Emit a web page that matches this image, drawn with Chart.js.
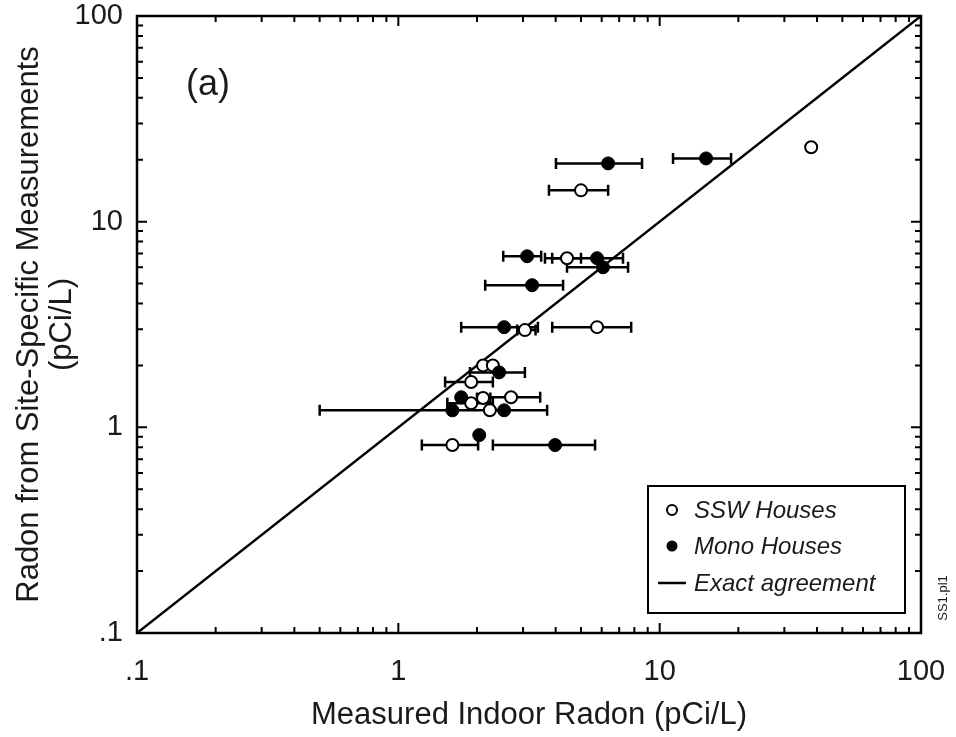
<!DOCTYPE html>
<html>
<head>
<meta charset="utf-8">
<script src="https://cdn.jsdelivr.net/npm/chart.js@4.4.0/dist/chart.umd.min.js"></script>
<style>
  html, body { margin: 0; padding: 0; background: #fff; }
  #wrap { width: 956px; height: 737px; }
</style>
</head>
<body>
<div id="wrap"><canvas id="grafico" width="956" height="737"></canvas></div>
<script>
// === Dados ===
const tickVals = [0.1, 1, 10, 100];
const tickLabels = [".1", "1", "10", "100"];

// SSW houses (open circles)
const sswX  = [5.0, 38, 4.42, 3.05, 5.76, 2.11, 2.30, 1.90, 2.11, 2.70, 1.90, 2.24, 1.61];
const sswY  = [14.2, 23, 6.64, 2.97, 3.07, 2.0, 2.0, 1.66, 1.39, 1.40, 1.31, 1.21, 0.82];
const sswLo = [3.77, null, 3.88, 2.85, 3.88, null, null, 1.51, 2.0, 2.11, 1.54, null, 1.23];
const sswHi = [6.35, null, 5.0, 3.35, 7.78, null, null, 2.30, 2.25, 3.49, 2.30, null, 2.02];

// Mono houses (filled circles)
const monoX  = [6.35, 15.05, 3.11, 5.76, 6.07, 3.25, 2.54, 2.43, 1.74, 1.61, 2.54, 2.04, 3.98];
const monoY  = [19.2, 20.3, 6.79, 6.64, 6.0, 4.91, 3.07, 1.85, 1.40, 1.21, 1.21, 0.917, 0.82];
const monoLo = [4.01, 11.25, 2.52, 3.64, 4.42, 2.15, 1.74, 1.88, null, 0.50, null, null, 2.30];
const monoHi = [8.56, 18.76, 3.52, 7.24, 7.57, 4.27, 3.42, 3.05, null, 3.71, null, null, 5.66];

// Exact agreement line
const exactLine = [0.1, 100];

const legendLabels = ["SSW Houses", "Mono Houses", "Exact agreement"];

const fonte = '"Liberation Sans", Arial, sans-serif';
const corTexto = "#1a1a1a";

// === Plugins ===
const barrasErro = {
  id: "barrasErro",
  beforeDatasetsDraw(chart) {
    const { ctx, scales: { x, y } } = chart;
    ctx.save();
    ctx.strokeStyle = "#000";
    ctx.lineWidth = 2.5;
    const desenha = (xs, ys, lo, hi) => {
      xs.forEach((v, i) => {
        if (lo[i] == null || hi[i] == null) return;
        const py = y.getPixelForValue(ys[i]);
        const x1 = x.getPixelForValue(lo[i]);
        const x2 = x.getPixelForValue(hi[i]);
        ctx.beginPath();
        ctx.moveTo(x1, py); ctx.lineTo(x2, py);
        ctx.moveTo(x1, py - 5.5); ctx.lineTo(x1, py + 5.5);
        ctx.moveTo(x2, py - 5.5); ctx.lineTo(x2, py + 5.5);
        ctx.stroke();
      });
    };
    desenha(sswX, sswY, sswLo, sswHi);
    desenha(monoX, monoY, monoLo, monoHi);
    ctx.restore();
  }
};

const moldura = {
  id: "moldura",
  afterDraw(chart) {
    const { ctx, chartArea: a, scales: { x, y } } = chart;
    ctx.save();
    ctx.strokeStyle = "#000";
    ctx.lineWidth = 2.5;
    ctx.strokeRect(a.left, a.top, a.right - a.left, a.bottom - a.top);

    // ticks para dentro
    ctx.lineWidth = 2;
    ctx.beginPath();
    for (let d = 0; d < tickVals.length; d++) {
      const dec = tickVals[d];
      for (let m = 1; m <= 9; m++) {
        if (d === tickVals.length - 1 && m > 1) break;
        const v = dec * m;
        const len = m === 1 ? 10 : 6;
        const px = x.getPixelForValue(v);
        ctx.moveTo(px, a.bottom); ctx.lineTo(px, a.bottom - len);
        ctx.moveTo(px, a.top); ctx.lineTo(px, a.top + len);
        const py = y.getPixelForValue(v);
        ctx.moveTo(a.left, py); ctx.lineTo(a.left + len, py);
        ctx.moveTo(a.right, py); ctx.lineTo(a.right - len, py);
      }
    }
    ctx.stroke();

    // (a)
    ctx.fillStyle = corTexto;
    ctx.font = "36px " + fonte;
    ctx.textAlign = "left";
    ctx.textBaseline = "middle";
    ctx.fillText("(a)", 186, 85);

    // Legenda
    const bx = 648, by = 486, bw = 257, bh = 127;
    ctx.fillStyle = "#fff";
    ctx.fillRect(bx, by, bw, bh);
    ctx.lineWidth = 2;
    ctx.strokeRect(bx, by, bw, bh);
    const rows = [510, 546, 583];
    ctx.font = "italic 24px " + fonte;
    ctx.fillStyle = corTexto;
    legendLabels.forEach((t, i) => ctx.fillText(t, 694, rows[i] + 1));
    ctx.lineWidth = 2;
    ctx.beginPath();
    ctx.arc(672, rows[0], 5, 0, Math.PI * 2);
    ctx.fillStyle = "#fff"; ctx.fill(); ctx.stroke();
    ctx.beginPath();
    ctx.arc(672, rows[1], 5.5, 0, Math.PI * 2);
    ctx.fillStyle = "#000"; ctx.fill();
    ctx.lineWidth = 2.5;
    ctx.beginPath();
    ctx.moveTo(658, rows[2]); ctx.lineTo(686, rows[2]);
    ctx.stroke();

    // marca lateral
    ctx.save();
    ctx.translate(943, 598);
    ctx.rotate(-Math.PI / 2);
    ctx.font = "13px " + fonte;
    ctx.textAlign = "center";
    ctx.fillStyle = corTexto;
    ctx.fillText("SS1.pl1", 0, 0);
    ctx.restore();

    ctx.restore();
  }
};

// zera o padding automatico das escalas para fixar a area do grafico
const semPadding = s => {
  s.paddingTop = 0; s.paddingBottom = 0;
  s.paddingLeft = 0; s.paddingRight = 0;
};

// === Chart.js ===
const ctx = document.getElementById("grafico").getContext("2d");
const grafico = new Chart(ctx, {
  type: "scatter",
  data: {
    datasets: [
      {
        type: "line",
        label: "Exact agreement",
        data: exactLine.map(v => ({ x: v, y: v })),
        borderColor: "#000",
        borderWidth: 2.5,
        pointRadius: 0,
        fill: false,
        order: 3
      },
      {
        label: "SSW Houses",
        data: sswX.map((v, i) => ({ x: v, y: sswY[i] })),
        pointRadius: 6,
        pointBackgroundColor: "#fff",
        pointBorderColor: "#000",
        pointBorderWidth: 2,
        order: 2
      },
      {
        label: "Mono Houses",
        data: monoX.map((v, i) => ({ x: v, y: monoY[i] })),
        pointRadius: 6.5,
        pointBackgroundColor: "#000",
        pointBorderColor: "#000",
        pointBorderWidth: 1,
        order: 1
      }
    ]
  },
  options: {
    responsive: false,
    animation: false,
    devicePixelRatio: 1,
    layout: { padding: { top: 16, right: 35, left: 0, bottom: 0 } },
    plugins: { legend: { display: false }, tooltip: { enabled: false } },
    scales: {
      x: {
        type: "logarithmic",
        min: 0.1,
        max: 100,
        grid: { display: false, drawTicks: false },
        border: { display: false },
        afterBuildTicks: s => { s.ticks = tickVals.map(v => ({ value: v })); },
        afterFit: s => { s.height = 104; semPadding(s); },
        ticks: {
          autoSkip: false,
          maxRotation: 0,
          padding: 22,
          color: corTexto,
          font: { family: fonte, size: 29 },
          callback: (v, i) => tickLabels[i]
        },
        title: {
          display: true,
          text: "Measured Indoor Radon (pCi/L)",
          color: corTexto,
          font: { family: fonte, size: 31 },
          padding: { top: 0, bottom: 3 }
        }
      },
      y: {
        type: "logarithmic",
        min: 0.1,
        max: 100,
        grid: { display: false, drawTicks: false },
        border: { display: false },
        afterBuildTicks: s => { s.ticks = tickVals.map(v => ({ value: v })); },
        afterFit: s => { s.width = 137; semPadding(s); },
        ticks: {
          autoSkip: false,
          padding: 14,
          color: corTexto,
          font: { family: fonte, size: 29 },
          callback: (v, i) => tickLabels[i]
        },
        title: {
          display: true,
          text: ["Radon from Site-Specific Measurements", "(pCi/L)"],
          color: corTexto,
          font: { family: fonte, size: 31, lineHeight: 1.07 },
          padding: { top: 13, bottom: 0 }
        }
      }
    }
  },
  plugins: [barrasErro, moldura]
});
</script>
</body>
</html>
